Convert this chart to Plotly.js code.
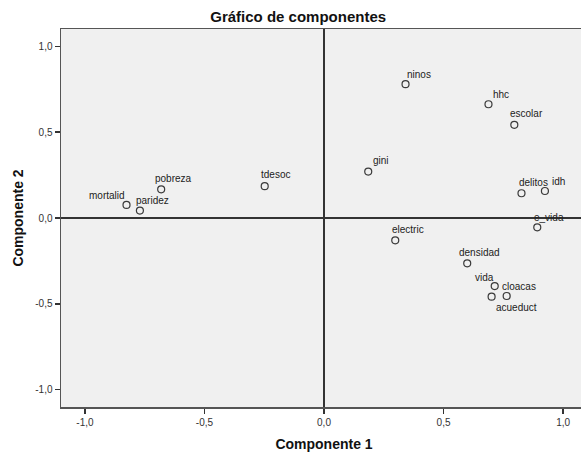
<!DOCTYPE html>
<html>
<head>
<meta charset="utf-8">
<script src="https://cdn.plot.ly/plotly-3.0.1.min.js"></script>
<style>html,body{margin:0;padding:0;overflow:hidden;background:#fff;}</style>
</head>
<body>
<div id="chart"></div>
<script>
// Component loadings (Componente 1, Componente 2)
var labels = ["mortalid","paridez","pobreza","tdesoc","ninos","hhc","escolar","gini","delitos","idh","e_vida","electric","densidad","cloacas","vida","acueduct"];
var comp1 = [-0.826,-0.770,-0.681,-0.248,0.341,0.688,0.796,0.185,0.826,0.924,0.892,0.298,0.599,0.714,0.701,0.764];
var comp2 = [0.076,0.043,0.167,0.185,0.779,0.662,0.542,0.270,0.144,0.157,-0.054,-0.130,-0.264,-0.396,-0.458,-0.454];
var tickVals = [-1.0,-0.5,0.0,0.5,1.0];
var tickText = ["-1,0","-0,5","0,0","0,5","1,0"];

// label offsets (style): [dx, dy] in px relative to marker, text left-anchored
var labelShift = [[-40,9],[-6,10],[-8,11],[-6,12],[-1,10],[3,10],[-6,11],[3,11],[-4,11],[5,10],[-5,10],[-5,11],[-10,11],[5,0],[-19,19],[-13,-11]];

var trace = {
  x: comp1, y: comp2, mode: 'markers', type: 'scatter',
  marker: {symbol: 'circle-open', size: 7, color: '#3a3a3a', line: {width: 1.2, color: '#3a3a3a'}},
  hoverinfo: 'none', showlegend: false
};

var FONT = 'Liberation Sans, Arial, sans-serif';

var annotations = labels.map(function(t, i){
  return {x: comp1[i], y: comp2[i], xref: 'x', yref: 'y', text: t, showarrow: false,
    xanchor: 'left', yanchor: 'middle', xshift: labelShift[i][0], yshift: labelShift[i][1],
    font: {family: FONT, size: 10, color: '#222'}};
});

var axisCommon = {
  range: [-1.1, 1.1], tickvals: tickVals, ticktext: tickText,
  ticks: 'outside', ticklen: 5, tickwidth: 1.2, tickcolor: '#333',
  showgrid: false, zeroline: true, zerolinecolor: '#333', zerolinewidth: 1.5,
  showline: true, mirror: true, linecolor: '#555', linewidth: 1.5,
  tickfont: {family: FONT, size: 10, color: '#333'},
  fixedrange: true
};

var layout = {
  width: 600, height: 453,
  margin: {l: 61, r: 13, t: 29, b: 46},
  paper_bgcolor: '#ffffff', plot_bgcolor: '#f0f0f0',
  title: {text: 'Gráfico de componentes', x: 0.497, xref: 'container', xanchor: 'center',
    y: 0.9625, yref: 'container', yanchor: 'middle',
    font: {family: FONT, size: 15, color: '#111', weight: 'bold'}},
  xaxis: Object.assign({}, axisCommon, {
    title: {text: 'Componente 1', standoff: 12,
      font: {family: FONT, size: 14, color: '#111', weight: 'bold'}}
  }),
  yaxis: Object.assign({}, axisCommon, {
    title: {text: 'Componente 2', standoff: 8,
      font: {family: FONT, size: 14, color: '#111', weight: 'bold'}}
  }),
  annotations: annotations
};

Plotly.newPlot('chart', [trace], layout, {displayModeBar: false, staticPlot: true});
</script>
</body>
</html>
